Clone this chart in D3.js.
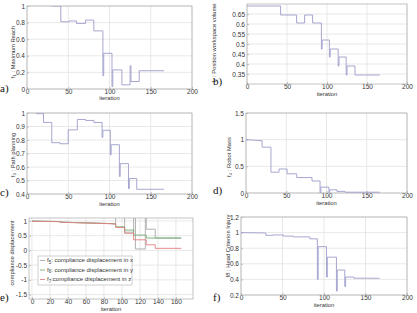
<!DOCTYPE html>
<html><head><meta charset="utf-8">
<script src="https://cdn.jsdelivr.net/npm/d3@7"></script>
<style>body{margin:0;background:#fff}svg{display:block}</style>
</head><body>
<script>
// ---------- data ----------
const xTicks200 = [0, 50, 100, 150, 200];
const xTicksE = [0, 20, 40, 60, 80, 100, 120, 140, 160];

// a) f1 : Maximum Reach
const iterA = [30, 41, 41, 51, 51, 60, 60, 71, 71, 81, 81, 92, 92, 93, 93, 103, 103, 104, 104, 115, 115, 125, 125, 126, 126, 136, 136, 166];
const valA  = [1, 1, 0.81, 0.81, 0.82, 0.82, 0.79, 0.79, 0.83, 0.83, 0.70, 0.70, 0.16, 0.16, 0.43, 0.43, 0.03, 0.03, 0.23, 0.23, 0.05, 0.05, 0.28, 0.28, 0.09, 0.09, 0.22, 0.22];
const yTicksA = [0, 0.2, 0.4, 0.6, 0.8, 1];

// b) f2 : Position workspace volume
const iterB = [0, 42, 42, 62, 62, 72, 72, 82, 82, 93, 93, 94, 94, 103, 103, 104, 104, 114, 114, 115, 115, 124, 124, 125, 125, 135, 135, 166];
const valB  = [0.69, 0.69, 0.645, 0.645, 0.605, 0.605, 0.645, 0.645, 0.605, 0.605, 0.475, 0.475, 0.52, 0.52, 0.435, 0.435, 0.475, 0.475, 0.39, 0.39, 0.435, 0.435, 0.345, 0.345, 0.39, 0.39, 0.345, 0.345];
const yTicksB = [0.35, 0.4, 0.45, 0.5, 0.55, 0.6, 0.65];

// c) f3 : Path planning
const iterC = [11, 20, 20, 30, 30, 40, 40, 50, 50, 61, 61, 71, 71, 81, 81, 91, 91, 92, 92, 101, 101, 102, 102, 112, 112, 113, 113, 123, 123, 124, 124, 133, 133, 166];
const valC  = [0.995, 0.995, 0.93, 0.93, 0.78, 0.78, 0.772, 0.772, 0.875, 0.875, 0.952, 0.952, 0.945, 0.945, 0.93, 0.93, 0.82, 0.82, 0.872, 0.872, 0.69, 0.69, 0.765, 0.765, 0.53, 0.53, 0.625, 0.625, 0.44, 0.44, 0.515, 0.515, 0.435, 0.435];
const yTicksC = [0.4, 0.5, 0.6, 0.7, 0.8, 0.9, 1];

// d) f4 : Robot Mass
const iterD = [0, 10, 20, 20, 31, 31, 41, 41, 51, 51, 63, 63, 82, 82, 92, 92, 93, 93, 103, 103, 104, 104, 113, 113, 123, 123, 166];
const valD  = [1.0, 0.99, 0.98, 0.86, 0.86, 0.39, 0.39, 0.45, 0.45, 0.36, 0.36, 0.29, 0.29, 0.225, 0.225, 0.0, 0.0, 0.11, 0.11, 0.01, 0.01, 0.06, 0.06, 0.03, 0.03, 0.015, 0.015];
const yTicksD = [0, 0.5, 1, 1.5];

// e) f5, f6, f7 : compliance displacement
const iterE5 = [0, 30, 32, 60, 88, 92, 93, 93, 103, 103, 113, 113, 115, 115, 126, 126, 127, 127, 137, 137, 166];
const valE5  = [1.0, 0.98, 0.96, 0.935, 0.91, 0.9, 0.9, 1.5, 1.5, 0.62, 0.62, 1.5, 1.5, 0.05, 0.05, 1.5, 1.5, 0.72, 0.72, 0.42, 0.42];
const iterE6 = [0, 30, 32, 60, 88, 92, 93, 93, 103, 103, 113, 113, 127, 127, 166];
const valE6  = [0.99, 0.98, 0.96, 0.935, 0.91, 0.9, 0.9, 0.8, 0.8, 0.69, 0.69, 0.52, 0.52, 0.42, 0.42];
const iterE7 = [0, 30, 32, 60, 88, 92, 93, 93, 103, 103, 113, 113, 127, 127, 137, 137, 166];
const valE7  = [0.99, 0.975, 0.955, 0.93, 0.905, 0.9, 0.9, 0.78, 0.78, 0.58, 0.58, 0.36, 0.36, 0.19, 0.19, 0.07, 0.07];
const yTicksE = [-1.5, -1, -0.5, 0, 0.5, 1];
const legendE = ["5", "6", "7"];
const legendTextE = [": compliance displacement in x", ": compliance displacement in y", ":compliance displacement in z"];

// f) f8 : Head Criterion Injury
const iterF = [0, 30, 30, 39, 39, 51, 51, 63, 63, 83, 83, 92, 92, 93, 93, 103, 103, 104, 104, 115, 115, 116, 116, 125, 125, 126, 126, 136, 136, 167];
const valF  = [1.0, 0.995, 0.965, 0.965, 0.97, 0.97, 0.955, 0.955, 0.945, 0.945, 0.92, 0.92, 0.4, 0.4, 0.82, 0.82, 0.43, 0.43, 0.685, 0.685, 0.25, 0.25, 0.52, 0.52, 0.31, 0.31, 0.43, 0.43, 0.415, 0.415];
const yTicksF = [0.2, 0.4, 0.6, 0.8, 1, 1.2];

// ---------- drawing ----------
const W = 417, H = 313;
const svg = d3.select("body").append("svg").attr("width", W).attr("height", H)
  .style("font-family", "Arial, 'Liberation Sans', sans-serif");
const defs = svg.append("defs");
const LINE = "#9d9dcc";
const fmt = d => String(+(+d).toFixed(2));

function panel(o) {
  const x = d3.scaleLinear().domain(o.xDomain).range([o.l, o.r]);
  const y = d3.scaleLinear().domain(o.yDomain).range([o.b, o.t]);
  const g = svg.append("g");
  defs.append("clipPath").attr("id", "clip" + o.name)
    .append("rect").attr("x", o.l).attr("y", o.t).attr("width", o.r - o.l).attr("height", o.b - o.t);

  // grid
  g.append("g").selectAll("line").data(o.xTicks).join("line")
    .attr("x1", d => x(d)).attr("x2", d => x(d)).attr("y1", o.t).attr("y2", o.b)
    .attr("stroke", "#e2e2e2").attr("stroke-width", 0.8);
  g.append("g").selectAll("line").data(o.yTicks).join("line")
    .attr("x1", o.l).attr("x2", o.r).attr("y1", d => y(d)).attr("y2", d => y(d))
    .attr("stroke", "#e2e2e2").attr("stroke-width", 0.8);

  // axes
  const ax = g.append("g").attr("transform", `translate(0,${o.b})`)
    .call(d3.axisBottom(x).tickValues(o.xTicks).tickFormat(fmt).tickSizeInner(-2).tickSizeOuter(0).tickPadding(0));
  const ay = g.append("g").attr("transform", `translate(${o.l},0)`)
    .call(d3.axisLeft(y).tickValues(o.yTicks).tickFormat(fmt).tickSizeInner(-2).tickSizeOuter(0).tickPadding(2));
  [ax, ay].forEach(a => {
    a.select(".domain").remove();
    a.selectAll(".tick line").attr("stroke", "#999").attr("stroke-width", 0.6);
    a.selectAll(".tick text").attr("fill", "#333").style("font-size", "6.5px").style("font-family", "Arial, 'Liberation Sans', sans-serif");
  });

  // frame
  g.append("rect").attr("x", o.l).attr("y", o.t).attr("width", o.r - o.l).attr("height", o.b - o.t)
    .attr("fill", "none").attr("stroke", "#b5b5b5").attr("stroke-width", 0.8);

  // series
  const line = d3.line().x(d => x(d[0])).y(d => y(d[1]));
  o.series.forEach(s => {
    g.append("path").datum(d3.zip(s.iter, s.val)).attr("d", line)
      .attr("fill", "none").attr("stroke", s.color).attr("stroke-width", 0.9)
      .attr("clip-path", `url(#clip${o.name})`);
  });

  // x label
  g.append("text").attr("x", (o.l + o.r) / 2).attr("y", o.xlY).attr("text-anchor", "middle")
    .style("font-size", "5.8px").attr("fill", "#333").text("iteration");

  // y label (rotated)
  const yl = g.append("text").attr("transform", `translate(${o.ylX},${o.ylY}) rotate(-90)`)
    .attr("text-anchor", "middle").style("font-size", "5.8px").attr("fill", "#333");
  if (o.ylSub) {
    yl.append("tspan").text("f");
    yl.append("tspan").attr("dy", 1.3).style("font-size", "4.3px").text(o.ylSub);
    yl.append("tspan").attr("dy", -1.3).text(o.ylText);
  } else {
    yl.text(o.ylText);
  }

  // panel letter
  svg.append("text").attr("x", o.pl[0]).attr("y", o.pl[1])
    .style("font-family", "'Liberation Serif', 'Times New Roman', serif").style("font-size", "11px")
    .attr("fill", "#111").text(o.name + ")");
  return { x, y, g };
}

panel({ name: "a", l: 27, r: 192, t: 6, b: 89, xDomain: [0, 200], yDomain: [0, 1],
  xTicks: xTicks200, yTicks: yTicksA, series: [{ iter: iterA, val: valA, color: LINE }],
  xlY: 100, ylX: 15, ylY: 52, ylSub: "1", ylText: " : Maximum Reach", pl: [0, 92] });

panel({ name: "b", l: 247, r: 407, t: 4, b: 84, xDomain: [0, 200], yDomain: [0.3, 0.7],
  xTicks: xTicks200, yTicks: yTicksB, series: [{ iter: iterB, val: valB, color: LINE }],
  xlY: 96, ylX: 216, ylY: 43, ylSub: "2", ylText: " : Position workspace volume", pl: [213, 85] });

panel({ name: "c", l: 27, r: 192, t: 113, b: 194, xDomain: [0, 200], yDomain: [0.4, 1],
  xTicks: xTicks200, yTicks: yTicksC, series: [{ iter: iterC, val: valC, color: LINE }],
  xlY: 206, ylX: 15, ylY: 155, ylSub: "3", ylText: " : Path planning", pl: [0, 196] });

panel({ name: "d", l: 246, r: 407, t: 113, b: 193, xDomain: [0, 200], yDomain: [0, 1.5],
  xTicks: xTicks200, yTicks: yTicksD, series: [{ iter: iterD, val: valD, color: LINE }],
  xlY: 205, ylX: 231, ylY: 157, ylSub: "4", ylText: " : Robot Mass", pl: [213, 194] });

panel({ name: "e", l: 29, r: 193, t: 218, b: 299, xDomain: [-3.3, 179], yDomain: [-1.65, 1.1],
  xTicks: xTicksE, yTicks: yTicksE,
  series: [
    { iter: iterE5, val: valE5, color: "#a8a8a8" },
    { iter: iterE6, val: valE6, color: "#72ad72" },
    { iter: iterE7, val: valE7, color: "#e38080" }
  ],
  xlY: 311, ylX: 14, ylY: 253, ylText: "compliance displacement", pl: [0, 301] });

// legend of e
const lg = svg.append("g");
lg.append("rect").attr("x", 38).attr("y", 256).attr("width", 94).attr("height", 29)
  .attr("fill", "#fff").attr("stroke", "#bbb").attr("stroke-width", 0.7);
const legColors = ["#a8a8a8", "#72ad72", "#e38080"];
legendE.forEach((s, i) => {
  const yy = 262 + i * 9.5;
  lg.append("line").attr("x1", 40).attr("x2", 45).attr("y1", yy - 1.5).attr("y2", yy - 1.5)
    .attr("stroke", legColors[i]).attr("stroke-width", 0.9);
  const t = lg.append("text").attr("x", 47).attr("y", yy).style("font-size", "6px").attr("fill", "#333");
  t.append("tspan").text("f");
  t.append("tspan").attr("dy", 1.5).style("font-size", "4.5px").text(s);
  t.append("tspan").attr("dy", -1.5).text(legendTextE[i]);
});

panel({ name: "f", l: 241, r: 407, t: 217, b: 295, xDomain: [0, 200], yDomain: [0.2, 1.2],
  xTicks: xTicks200, yTicks: yTicksF, series: [{ iter: iterF, val: valF, color: LINE }],
  xlY: 306.5, ylX: 230, ylY: 246, ylText: "f8 : Head Criterion Injury", pl: [213, 301] });
</script>
</body></html>
